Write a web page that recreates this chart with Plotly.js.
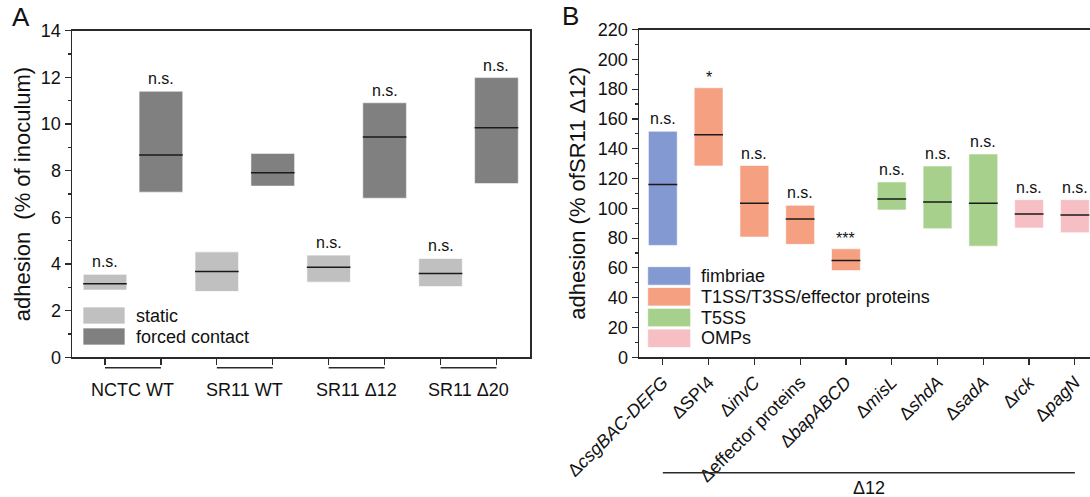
<!DOCTYPE html>
<html>
<head>
<meta charset="utf-8">
<script src="https://cdn.plot.ly/plotly-3.0.1.min.js"></script>
<style>html,body{margin:0;padding:0;background:#fff;}#chart{width:1090px;height:497px;}</style>
</head>
<body>
<div id="chart"></div>
<script>
// ---------- Panel A data ----------
const groupsA = ['NCTC WT', 'SR11 WT', 'SR11 Δ12', 'SR11 Δ20'];
const staticLow  = [2.88, 2.82, 3.22, 3.03];
const staticHigh = [3.56, 4.52, 4.38, 4.24];
const staticMed  = [3.15, 3.68, 3.86, 3.59];
const forcedLow  = [7.08, 7.34, 6.82, 7.45];
const forcedHigh = [11.40, 8.74, 10.91, 11.99];
const forcedMed  = [8.67, 7.91, 9.44, 9.84];
const staticSig  = ['n.s.', '', 'n.s.', 'n.s.'];
const forcedSig  = ['n.s.', '', 'n.s.', 'n.s.'];
const conditionsA = ['static', 'forced contact'];
const yTicksA = [0, 2, 4, 6, 8, 10, 12, 14];

// ---------- Panel B data ----------
const mutantsB = ['Δ<i>csgBAC-DEFG</i>', 'ΔSPI4', 'Δ<i>invC</i>', 'Δeffector proteins', 'Δ<i>bapABCD</i>',
                  'Δ<i>misL</i>', 'Δ<i>shdA</i>', 'Δ<i>sadA</i>', 'Δ<i>rck</i>', 'Δ<i>pagN</i>'];
const classB = ['fimbriae', 'T1SS/T3SS/effector proteins', 'T1SS/T3SS/effector proteins',
                'T1SS/T3SS/effector proteins', 'T1SS/T3SS/effector proteins',
                'T5SS', 'T5SS', 'T5SS', 'OMPs', 'OMPs'];
const lowB  = [75.1, 128.4, 80.7, 75.8, 58.2, 98.9, 86.3, 74.6, 86.8, 83.6];
const highB = [151.7, 180.9, 128.7, 102.0, 72.8, 117.7, 128.4, 136.5, 105.8, 105.8];
const medB  = [115.9, 149.3, 103.4, 92.8, 64.9, 106.3, 104.3, 103.4, 96.2, 95.5];
const sigB  = ['n.s.', '*', 'n.s.', 'n.s.', '***', 'n.s.', 'n.s.', 'n.s.', 'n.s.', 'n.s.'];
const classesB = ['fimbriae', 'T1SS/T3SS/effector proteins', 'T5SS', 'OMPs'];

// ---------- styling ----------
const W = 1090, H = 497;
const px = x => x / W;
const py = y => 1 - y / H;
const FONT = 'Liberation Sans, Arial, Helvetica, sans-serif';
const TXT = '#111111';
const AX = '#2a2a2a';
const colA = {'static': '#c0c0c0', 'forced contact': '#808080'};
const colB = {'fimbriae': '#8399d1', 'T1SS/T3SS/effector proteins': '#f4a081',
              'T5SS': '#a6d08b', 'OMPs': '#f6bfc3'};
const wA = 0.78, wB = 0.63;

const traces = [];
const annotations = [];
const shapes = [];

// Panel A positions: static at 2i, forced at 2i+1
const xs = groupsA.map((g, i) => 2 * i);
const xf = groupsA.map((g, i) => 2 * i + 1);

function medianLine(xpos, med, w, xa, ya) {
  const X = [], Y = [];
  xpos.forEach((x, i) => { X.push(x - w / 2, x + w / 2, null); Y.push(med[i], med[i], null); });
  return {type: 'scatter', mode: 'lines', x: X, y: Y, xaxis: xa, yaxis: ya,
          line: {color: '#1a1a1a', width: 1.5}, hoverinfo: 'skip', showlegend: false};
}

traces.push({type: 'bar', name: 'static', x: xs, base: staticLow,
  y: staticHigh.map((h, i) => h - staticLow[i]), width: wA,
  marker: {color: colA['static'], line: {color: 'rgba(255,255,255,0.7)', width: 1}},
  xaxis: 'x', yaxis: 'y', showlegend: false});
traces.push({type: 'bar', name: 'forced contact', x: xf, base: forcedLow,
  y: forcedHigh.map((h, i) => h - forcedLow[i]), width: wA,
  marker: {color: colA['forced contact'], line: {color: 'rgba(255,255,255,0.5)', width: 1}},
  xaxis: 'x', yaxis: 'y', showlegend: false});
traces.push(medianLine(xs, staticMed, wA, 'x', 'y'));
traces.push(medianLine(xf, forcedMed, wA, 'x', 'y'));

groupsA.forEach((g, i) => {
  if (staticSig[i]) annotations.push({xref: 'x', yref: 'y', x: xs[i], y: staticHigh[i], text: staticSig[i],
    showarrow: false, yanchor: 'bottom', yshift: 2, font: {family: FONT, size: 16, color: TXT}});
  if (forcedSig[i]) annotations.push({xref: 'x', yref: 'y', x: xf[i], y: forcedHigh[i], text: forcedSig[i],
    showarrow: false, yanchor: 'bottom', yshift: 2, font: {family: FONT, size: 16, color: TXT}});
  annotations.push({xref: 'x', yref: 'paper', x: 2 * i + 0.5, y: py(390), text: g, showarrow: false,
    yanchor: 'middle', font: {family: FONT, size: 18, color: TXT}});
  shapes.push({type: 'line', xref: 'x', yref: 'paper', x0: xs[i], x1: xf[i], y0: py(367.7), y1: py(367.7),
    line: {color: AX, width: 1.5}});
});

// Panel A legend
conditionsA.forEach((c, k) => {
  const top = 307 + k * 21;
  shapes.push({type: 'rect', xref: 'paper', yref: 'paper', x0: px(83), x1: px(125), y0: py(top + 17), y1: py(top),
    fillcolor: colA[c], line: {color: 'rgba(255,255,255,0.7)', width: 1}});
  annotations.push({xref: 'paper', yref: 'paper', x: px(134), y: py(top + 8.5), text: c, showarrow: false,
    xanchor: 'left', yanchor: 'middle', font: {family: FONT, size: 18, color: TXT}});
});

// Panel B
const xB = mutantsB.map((m, i) => i);
classesB.forEach(cls => {
  const idx = xB.filter(i => classB[i] === cls);
  traces.push({type: 'bar', name: cls, x: idx, base: idx.map(i => lowB[i]),
    y: idx.map(i => highB[i] - lowB[i]), width: wB,
    marker: {color: colB[cls], line: {color: 'rgba(255,255,255,0.6)', width: 1}},
    xaxis: 'x2', yaxis: 'y2', showlegend: false});
});
traces.push(medianLine(xB, medB, wB, 'x2', 'y2'));
xB.forEach(i => {
  annotations.push({xref: 'x2', yref: 'y2', x: i, y: highB[i], text: sigB[i], showarrow: false,
    yanchor: 'bottom', yshift: sigB[i] === 'n.s.' ? 2 : 0, font: {family: FONT, size: 16, color: TXT}});
});
shapes.push({type: 'line', xref: 'x2', yref: 'paper', x0: 0, x1: 9, y0: py(472.7), y1: py(472.7),
  line: {color: AX, width: 1.5}});
annotations.push({xref: 'x2', yref: 'paper', x: 4.5, y: py(488), text: 'Δ12', showarrow: false,
  yanchor: 'middle', font: {family: FONT, size: 18, color: TXT}});

// Panel B legend
classesB.forEach((c, k) => {
  const top = 266.7 + k * 20.8;
  shapes.push({type: 'rect', xref: 'paper', yref: 'paper', x0: px(647.7), x1: px(690.7), y0: py(top + 18.5), y1: py(top),
    fillcolor: colB[c], line: {color: 'rgba(255,255,255,0.7)', width: 1}});
  annotations.push({xref: 'paper', yref: 'paper', x: px(699), y: py(top + 9.3), text: c, showarrow: false,
    xanchor: 'left', yanchor: 'middle', font: {family: FONT, size: 18, color: TXT}});
});

// Panel letters
annotations.push({xref: 'paper', yref: 'paper', x: px(10), y: py(17), text: 'A', showarrow: false,
  xanchor: 'left', yanchor: 'middle', font: {family: FONT, size: 26, color: TXT}});
annotations.push({xref: 'paper', yref: 'paper', x: px(560), y: py(16), text: 'B', showarrow: false,
  xanchor: 'left', yanchor: 'middle', font: {family: FONT, size: 26, color: TXT}});

const axBase = {showline: true, linecolor: AX, linewidth: 1.5, showgrid: false, zeroline: false,
  ticks: 'outside', tickcolor: AX, tickwidth: 1.2, ticklen: 6,
  tickfont: {family: FONT, size: 18, color: TXT}};

const layout = {
  width: W, height: H,
  margin: {l: 0, r: 0, t: 0, b: 0},
  paper_bgcolor: '#ffffff', plot_bgcolor: '#ffffff',
  barmode: 'overlay',
  showlegend: false,
  xaxis: Object.assign({}, axBase, {domain: [px(72), px(530)], range: [-0.59, 7.6],
    tickvals: [0, 1, 2, 3, 4, 5, 6, 7], ticktext: ['', '', '', '', '', '', '', ''], mirror: true, anchor: 'y'}),
  yaxis: Object.assign({}, axBase, {domain: [py(357.3), py(30.7)], range: [0, 14],
    tickvals: yTicksA, mirror: true, anchor: 'x',
    minor: {dtick: 1, ticks: 'outside', ticklen: 3, tickcolor: AX},
    title: {text: 'adhesion  (% of inoculum)', standoff: 4, font: {family: FONT, size: 22, color: TXT}}}),
  xaxis2: Object.assign({}, axBase, {domain: [px(639), 1], range: [-0.52, 9.33],
    tickvals: xB, ticktext: mutantsB, tickangle: -45, mirror: true, anchor: 'y2'}),
  yaxis2: Object.assign({}, axBase, {domain: [py(357.3), py(29.5)], range: [0, 220], dtick: 20, anchor: 'x2',
    minor: {dtick: 10, ticks: 'outside', ticklen: 3, tickcolor: AX},
    title: {text: 'adhesion (% ofSR11 Δ12)', standoff: 6, font: {family: FONT, size: 22, color: TXT}}}),
  annotations: annotations,
  shapes: shapes
};

Plotly.newPlot('chart', traces, layout, {displayModeBar: false, staticPlot: true});
</script>
</body>
</html>
